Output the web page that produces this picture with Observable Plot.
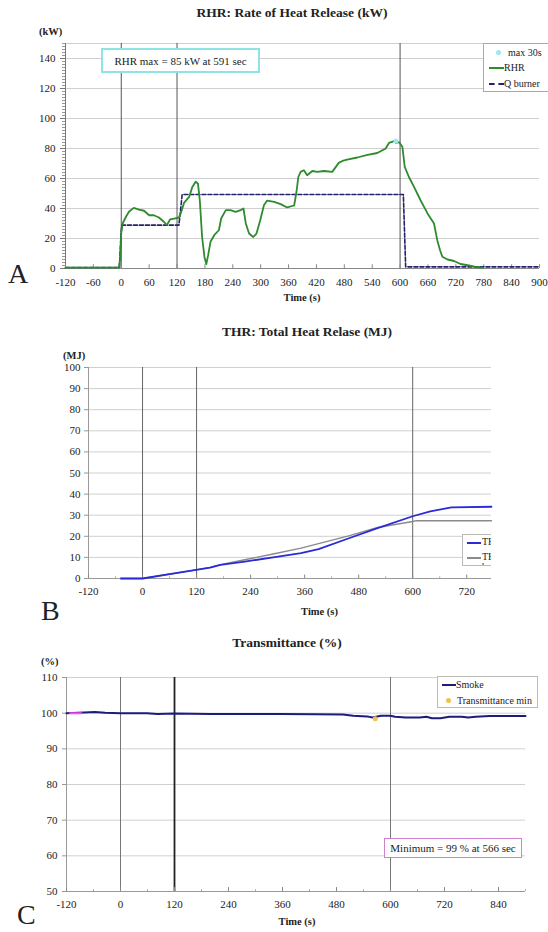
<!DOCTYPE html>
<html><head><meta charset="utf-8">
<script src="https://cdn.jsdelivr.net/npm/d3@7"></script>
<script src="https://cdn.jsdelivr.net/npm/@observablehq/plot@0.6"></script>
<style>
body{margin:0;background:#fff;}
#page{position:relative;width:548px;height:932px;overflow:hidden;font-family:"Liberation Serif","Times New Roman",serif;color:#222;background:#fff;}
.abs{position:absolute;white-space:nowrap;line-height:1;}
.c{transform:translate(-50%,-50%);}
.l{transform:translateY(-50%);}
.title{font-weight:bold;font-size:13.5px;}
.unit{font-weight:bold;font-size:10.5px;}
.xl{font-weight:bold;font-size:10.5px;}
.letter{font-size:28px;}
.box{position:absolute;background:#fff;box-sizing:border-box;}
.lg{font-size:10px;}
.svgwrap{position:absolute;left:0;}
</style></head>
<body><div id="page"></div>
<script>
// ---------- Panel A: RHR ----------
const rhrTime = [-120,-60,-5,-2,0,3,6,11,17,27,38,49,60,70,81,92,98,105,114,124,128,135,146,153,160,165,169,174,179,183,187,192,200,210,215,225,235,246,257,263,268,275,284,291,299,307,314,329,343,357,372,377,381,386,393,400,411,422,436,454,468,476,486,508,530,551,569,576,587,591,598,605,610,619,630,644,659,673,680,686,691,702,716,730,748,763,778,786];
const rhrValue = [0.6,0.6,0.6,8,24,30,32,35,38,40.4,39.3,38.5,35.5,35.5,34,31,28.9,32.7,33.3,34,36.7,43.7,47.7,54.4,57.8,56.7,45.5,21,7.7,2.9,8.9,17.8,22.2,25.5,33.3,38.9,38.9,37.8,38.9,40,30,23.3,21,23.3,32.2,42.2,45.3,44.4,42.9,40.7,42,51,61,64.4,65.5,62.2,65,64.4,65,64.4,70.4,71.7,72.6,74,75.7,77,80,83.7,84.9,83.7,84.2,81,67.8,61,54.4,45.5,36.7,30,18.9,12.2,7.8,6,5,3,2,1,0.5];
const qTime = [-120,-4,-1,1,124,128,131,607,609,612,900];
const qValue = [0.7,0.7,20,28.9,28.9,40,49.3,49.3,30,1.1,1.1];
const rhrMax = {t: 591, v: 85};
const eventTimes = [0, 120, 600];
const xTicksA = d3.range(-120, 901, 60);
const yTicksA = d3.range(0, 141, 20);

// ---------- Panel B: THR ----------
const thrTime = [-48,0,57,119,150,173,227,290,352,391,460,522,600,639,686,775];
const thrValue = [0,0,2,4.1,5.2,6.5,8,10,12,13.9,19.2,23.9,29.5,31.8,33.7,34];
const thrqTime = [-48,0,57,119,150,173,227,290,352,460,522,600,608,775];
const thrqValue = [0,0,2,4.1,5.3,6.6,8.9,11.6,14.4,20.3,24.2,27,27.4,27.4];
const xTicksB = d3.range(-120, 721, 120);
const yTicksB = d3.range(0, 101, 10);

// ---------- Panel C: Transmittance ----------
const smokeTime = [-120,-81,-57,-34,0,59,82,120,199,354,432,494,517,548,560,568,579,600,610,634,665,680,692,711,731,758,773,789,820,859,900];
const smokeValue = [100,100.2,100.3,100.1,100,100,99.8,99.9,99.8,99.8,99.7,99.6,99.3,99.1,98.8,99,99.3,99.3,99,98.8,98.8,99,98.6,98.6,99,99,98.8,99,99.2,99.2,99.2];
const baseTime = [-112, -87];
const baseValue = [100, 100];
const transMin = {t: 566, v: 98.4};
const xTicksC = d3.range(-120, 841, 120);
const yTicksC = d3.range(50, 111, 10);

const zip = (ts, vs) => ts.map((t, i) => ({t, v: vs[i]}));
const page = document.getElementById("page");
const fmt = d => String(d);
const baseStyle = {fontFamily: "Liberation Serif, Times New Roman, serif", fontSize: "11px", color: "#222", background: "transparent"};

function addSvg(svg, top) {
  const w = document.createElement("div");
  w.className = "svgwrap"; w.style.top = top + "px";
  w.appendChild(svg); page.appendChild(w);
}
function text(str, x, y, cls, align) {
  const d = document.createElement("div");
  d.className = "abs " + (align === "l" ? "l " : "c ") + cls;
  d.style.left = x + "px"; d.style.top = y + "px";
  d.textContent = str; page.appendChild(d); return d;
}
function box(x, y, w, h, border, extra) {
  const d = document.createElement("div");
  d.className = "box";
  Object.assign(d.style, {left: x + "px", top: y + "px", width: w + "px", height: h + "px", border}, extra || {});
  page.appendChild(d); return d;
}

// Panel A
const chartA = Plot.plot({
  width: 548, height: 300, marginTop: 43, marginBottom: 32, marginLeft: 65, marginRight: 9,
  x: {domain: [-120, 900]}, y: {domain: [0, 150]},
  style: baseStyle,
  marks: [
    Plot.ruleY(d3.range(20, 151, 10).filter(d => d % 20 === 0 || d === 150), {stroke: "#cfcfcf"}),
    Plot.ruleX(eventTimes, {stroke: "#555"}),
    Plot.ruleY([0], {stroke: "#888"}),
    Plot.ruleX([-120], {stroke: "#777"}),
    Plot.axisY({ticks: d3.range(0, 151, 2), tickSize: 3, tickFormat: () => "", stroke: "#999", label: null}),
    Plot.axisY({ticks: yTicksA, tickSize: 5, tickPadding: 5, tickFormat: fmt, stroke: "#777", label: null}),
    Plot.axisX({ticks: xTicksA, tickSize: 0, tickPadding: 10, tickFormat: fmt, label: null}),
    Plot.ruleX(xTicksA, {y1: 0, y2: 2.5, stroke: "#888"}),
    Plot.line(zip(qTime, qValue), {x: "t", y: "v", stroke: "#23236e", strokeWidth: 1.6, strokeDasharray: "4,2"}),
    Plot.line(zip(rhrTime, rhrValue), {x: "t", y: "v", stroke: "#2e8b2e", strokeWidth: 1.8}),
    Plot.dot([rhrMax], {x: "t", y: "v", fill: "#9ee8ee", r: 2.5})
  ]
});
addSvg(chartA, 0);

// Panel B
const chartB = Plot.plot({
  width: 548, height: 265, marginTop: 27, marginBottom: 27, marginLeft: 88, marginRight: 57,
  x: {domain: [-120, 775]}, y: {domain: [0, 100]},
  style: baseStyle,
  marks: [
    Plot.ruleY(d3.range(10, 101, 10), {stroke: "#d0d0d0"}),
    Plot.ruleX(eventTimes, {stroke: "#666"}),
    Plot.ruleY([0], {stroke: "#999"}),
    Plot.ruleX([-120], {stroke: "#999"}),
    Plot.axisY({ticks: yTicksB, tickSize: 4, tickPadding: 4, tickFormat: fmt, stroke: "#999", label: null}),
    Plot.axisX({ticks: xTicksB, tickSize: 0, tickPadding: 9, tickFormat: fmt, label: null}),
    Plot.ruleX(xTicksB, {y1: 0, y2: 1.6, stroke: "#888"}),
    Plot.ruleX(d3.range(-60, 721, 120), {y1: 0, y2: 0.8, stroke: "#aaa"}),
    Plot.line(zip(thrqTime, thrqValue), {x: "t", y: "v", stroke: "#8a8a8a", strokeWidth: 1.4}),
    Plot.line(zip(thrTime, thrValue), {x: "t", y: "v", stroke: "#2a2ad8", strokeWidth: 1.8})
  ]
});
addSvg(chartB, 340);

// Panel C
const chartC = Plot.plot({
  width: 548, height: 282, marginTop: 27, marginBottom: 41, marginLeft: 66, marginRight: 23,
  x: {domain: [-120, 900]}, y: {domain: [50, 110]},
  style: baseStyle,
  marks: [
    Plot.ruleY(d3.range(60, 111, 10), {stroke: "#d0d0d0"}),
    Plot.ruleX([0, 600], {stroke: "#777"}),
    Plot.ruleX([120], {stroke: "#222", strokeWidth: 1.8}),
    Plot.ruleY([50], {stroke: "#999"}),
    Plot.ruleX([-120], {stroke: "#999"}),
    Plot.axisY({ticks: yTicksC, tickSize: 4, tickPadding: 5, tickFormat: fmt, stroke: "#999", label: null}),
    Plot.axisX({ticks: xTicksC, tickSize: 0, tickPadding: 9, tickFormat: fmt, label: null}),
    Plot.ruleX(xTicksC, {y1: 50, y2: 51.1, stroke: "#888"}),
    Plot.ruleX(d3.range(-60, 901, 120), {y1: 50, y2: 50.5, stroke: "#aaa"}),
    Plot.line(zip(smokeTime, smokeValue), {x: "t", y: "v", stroke: "#1c1c7c", strokeWidth: 2}),
    Plot.line(zip(baseTime, baseValue), {x: "t", y: "v", stroke: "#ff44ff", strokeWidth: 2}),
    Plot.dot([transMin], {x: "t", y: "v", fill: "#f0c050", r: 2.5})
  ]
});
addSvg(chartC, 650);

// ---------- texts & boxes ----------
// A
text("RHR: Rate of Heat Release (kW)", 292, 13, "title");
text("(kW)", 39, 32, "unit", "l");
text("Time (s)", 302, 298, "xl");
text("A", 8, 274, "letter", "l");
box(101, 48, 159, 25, "2px solid #8ee4e4");
text("RHR max = 85 kW at 591 sec", 180.5, 61, "lg").style.fontSize = "11px";
box(483, 43, 80, 49, "1px solid #aaa");
box(496, 50, 5, 5, "none", {background: "#9ee8ee", borderRadius: "50%"});
text("max 30s", 508, 53, "lg", "l");
box(489, 67, 15, 2, "none", {background: "#2e8b2e"});
text("RHR", 504, 68, "lg", "l");
box(489, 83, 15, 2, "none", {borderTop: "2px dashed #23236e", height: "0px"});
text("Q burner", 504, 84, "lg", "l");

// B
text("THR: Total Heat Relase (MJ)", 307, 332, "title");
text("(MJ)", 63, 356, "unit", "l");
text("Time (s)", 319.5, 612, "xl");
text("B", 41, 611, "letter", "l");
const lgB = box(462, 534, 29, 32, "1px solid #bbb", {borderRight: "none", overflow: "hidden"});
lgB.innerHTML = '<div style="position:absolute;left:4px;top:7px;width:14px;height:2px;background:#2a2ad8"></div>' +
  '<div style="position:absolute;left:19px;top:2px;font-size:10px;line-height:1">THR</div>' +
  '<div style="position:absolute;left:4px;top:22px;width:14px;height:2px;background:#8a8a8a"></div>' +
  '<div style="position:absolute;left:19px;top:17px;font-size:10px;line-height:1">THR burner</div>';

// C
text("Transmittance (%)", 287, 643, "title");
text("(%)", 41, 662, "unit", "l");
text("Time (s)", 297, 922, "xl");
text("C", 17, 915, "letter", "l");
box(437, 676, 101, 32, "1px solid #bbb");
box(442, 684, 14, 2, "none", {background: "#1c1c7c"});
text("Smoke", 456, 685, "lg", "l");
box(446, 698, 5, 5, "none", {background: "#f0c050", borderRadius: "50%"});
text("Transmittance min", 457, 701, "lg", "l");
box(384, 838, 138, 20, "1.5px solid #d080d0");
text("Minimum = 99 % at 566 sec", 453, 848, "lg").style.fontSize = "11px";
</script>
</body></html>
